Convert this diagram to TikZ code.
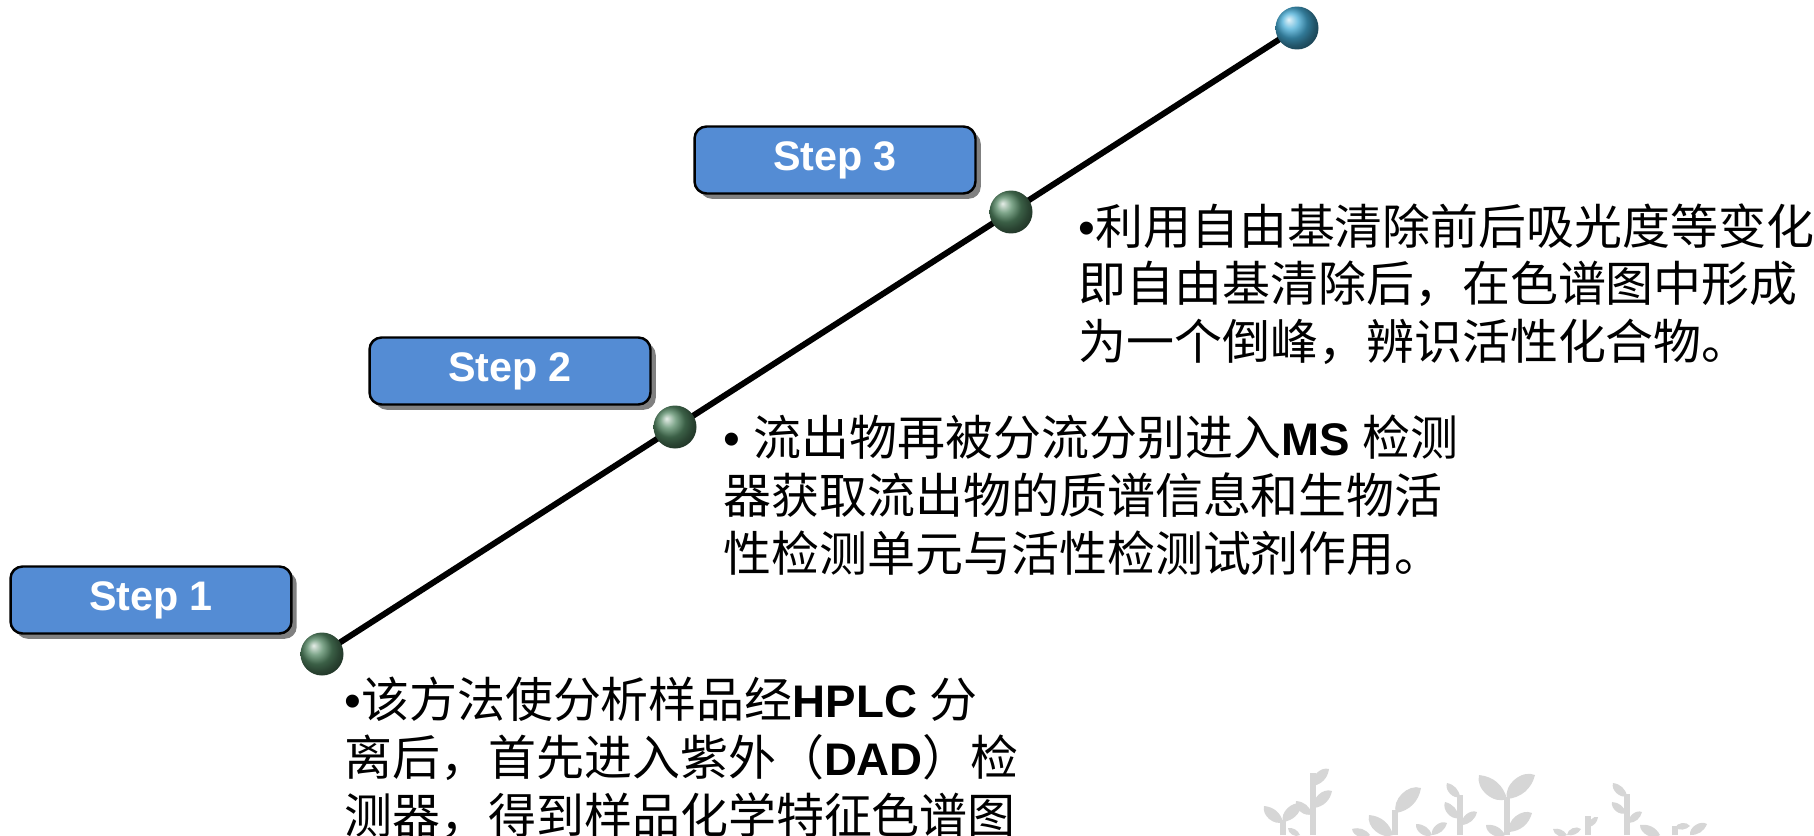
\documentclass[tikz,border=0pt]{standalone}
\usepackage{fontspec}
\setmainfont{Liberation Sans}
\newfontfamily\cjk{Noto Sans CJK SC}
\usetikzlibrary{shadows,backgrounds}
\definecolor{stepblue}{RGB}{84,140,212}
\definecolor{plantgray}{RGB}{214,214,214}
\definecolor{ballgreen}{RGB}{84,136,100}
\definecolor{ballblue}{RGB}{70,172,214}
\tikzset{
stepbox/.style={draw=black,line width=1.4pt,fill=stepblue,rounded corners=0.24cm,
  minimum width=5.62cm,minimum height=1.34cm,text=white,
  font=\fontsize{23.5}{28}\selectfont\bfseries,
  drop shadow={shadow xshift=3pt,shadow yshift=-3pt,fill=black!50,opacity=1}},
dot/.style={circle,minimum size=0.86cm,inner sep=0pt,ball color=ballgreen},
topdot/.style={dot,ball color=ballblue},
note/.style={anchor=north west,inner sep=0pt,align=left,
  font=\cjk\fontsize{27.3}{32.8}\selectfont},
rail/.style={line width=3.4pt},
plant/.style={fill=plantgray},
stem/.style={draw=plantgray,line width=3pt}
}
\newcommand{\latin}[1]{{\rmfamily\bfseries\fontsize{26}{32.8}\selectfont #1}}

\begin{document}
\begin{tikzpicture}[x=0.02cm,y=-0.02cm]
\useasboundingbox (0,0) rectangle (1814,835);

% sprouts along the bottom edge
\draw[stem] (1283,835) -- (1283,820)  (1313,835) -- (1313,773)
            (1395,835) -- (1395,810)  (1460,835) -- (1460,795)
            (1507,835) -- (1507,797)  (1588,835) -- (1588,816)
            (1627,835) -- (1627,794)  (1675,835) -- (1675,826);
\foreach \bx/\by/\tx/\ty in {1283/822/1264/806, 1283/822/1302/804,
    1313/786/1329/769, 1314/808/1332/791, 1312/814/1296/801, 1300/835/1288/828,
    1396/813/1421/788, 1393/835/1369/815, 1370/835/1352/829,
    1432/835/1416/824, 1432/835/1447/823,
    1460/797/1447/783, 1459/818/1445/802, 1462/825/1477/812,
    1507/799/1479/775, 1507/799/1535/775, 1509/832/1532/813, 1505/835/1486/825,
    1567/835/1553/829, 1567/835/1581/829, 1589/827/1598/817,
    1627/796/1613/783, 1626/813/1612/802, 1629/823/1642/812,
    1660/835/1640/825, 1675/828/1690/826, 1690/835/1707/824}
  \fill[plant] (\bx,\by) to[bend left=65] (\tx,\ty) to[bend left=35] (\bx,\by);

% the steps
\node[stepbox] (s1) at (151,600) {\raisebox{-2pt}{Step 1}};
\node[stepbox] (s2) at (510,371) {\raisebox{-2pt}{Step 2}};
\node[stepbox] (s3) at (835,160) {\raisebox{-2pt}{Step 3}};

% rising line with its beads
\node[dot]    (b1) at (322,654)  {};
\node[dot]    (b2) at (675,427)  {};
\node[dot]    (b3) at (1011,212) {};
\node[topdot] (b4) at (1297,28)  {};
\begin{scope}[on background layer]
\draw[rail] (b1.center) -- (b4.center);
\end{scope}

% texts
\node[note] (n1) at (344,677) {{\rmfamily •}该方法使分析样品经\latin{HPLC }分\\
  离后，首先进入紫外（\latin{DAD}）检\\
  测器，得到样品化学特征色谱图};
\node[note] (n2) at (723,415) {{\rmfamily • }流出物再被分流分别进入\latin{MS }检测\\
  器获取流出物的质谱信息和生物活\\
  性检测单元与活性检测试剂作用。};
\node[note] (n3) at (1078,203) {{\rmfamily •}利用自由基清除前后吸光度等变化\\
  即自由基清除后，在色谱图中形成\\
  为一个倒峰，辨识活性化合物。};
\end{tikzpicture}
\end{document}
